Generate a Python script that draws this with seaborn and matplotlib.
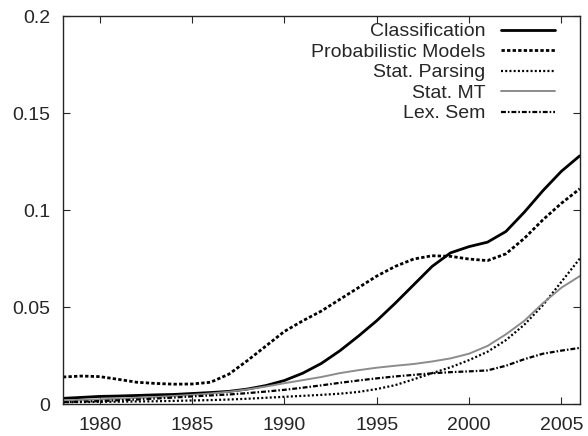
import numpy as np
import pandas as pd
import matplotlib
matplotlib.use("Agg")
import matplotlib.pyplot as plt
import seaborn as sns
from matplotlib.ticker import FuncFormatter

# anos e valores
years = list(range(1978, 2007))
classification = [0.003, 0.0035, 0.004, 0.0042, 0.0045, 0.0048, 0.005, 0.0055, 0.006, 0.0066,
                  0.0078, 0.0096, 0.0122, 0.016, 0.021, 0.0275, 0.035, 0.043, 0.052, 0.0615,
                  0.071, 0.078, 0.0812, 0.0835, 0.089, 0.099, 0.110, 0.120, 0.128]
prob_models = [0.014, 0.0145, 0.0142, 0.0128, 0.0113, 0.0107, 0.0103, 0.0104, 0.0113, 0.0155,
               0.0225, 0.030, 0.0375, 0.043, 0.048, 0.054, 0.060, 0.066, 0.071, 0.0748,
               0.0765, 0.0762, 0.0748, 0.074, 0.0775, 0.0855, 0.095, 0.1035, 0.111]
stat_parsing = [0.001, 0.0011, 0.0012, 0.0013, 0.0014, 0.0015, 0.0017, 0.0019, 0.0021, 0.0024,
                0.0028, 0.0033, 0.0038, 0.0043, 0.0048, 0.0054, 0.0063, 0.0078, 0.0098, 0.0128,
                0.016, 0.019, 0.0227, 0.027, 0.033, 0.041, 0.051, 0.063, 0.075]
stat_mt = [0.002, 0.0022, 0.0025, 0.0028, 0.0032, 0.0037, 0.0042, 0.0048, 0.0055, 0.0064,
           0.0076, 0.0091, 0.0108, 0.0124, 0.014, 0.016, 0.0175, 0.0188, 0.0198, 0.0207,
           0.022, 0.0236, 0.026, 0.030, 0.036, 0.043, 0.052, 0.060, 0.066]
lex_sem = [0.001, 0.0013, 0.0016, 0.002, 0.0024, 0.0029, 0.0034, 0.004, 0.0045, 0.005,
           0.0057, 0.0065, 0.0074, 0.0085, 0.0097, 0.011, 0.0122, 0.0133, 0.0143, 0.0151,
           0.0159, 0.0165, 0.0169, 0.0174, 0.0198, 0.0232, 0.026, 0.0276, 0.029]

labels = ["Classification", "Probabilistic Models", "Stat. Parsing", "Stat. MT", "Lex. Sem"]
series = [classification, prob_models, stat_parsing, stat_mt, lex_sem]

sns.set_style("ticks")
plt.rcParams["font.family"] = ["Liberation Sans", "DejaVu Sans"]

fig = plt.figure(figsize=(5.88, 4.36), dpi=100)
ax = fig.add_axes([0.107, 0.073, 0.879, 0.89])

estilos = [
    dict(color="black", lw=2.0, linestyle="-"),
    dict(color="black", lw=2.0, dashes=(1.2, 0.8)),
    dict(color="black", lw=1.6, dashes=(0.9, 1.0)),
    dict(color="#8c8c8c", lw=1.4, linestyle="-"),
    dict(color="black", lw=1.6, dashes=(2.2, 0.9, 0.7, 0.9)),
]

for lab, vals, st in zip(labels, series, estilos):
    df = pd.DataFrame({"ano": years, "valor": vals})
    sns.lineplot(data=df, x="ano", y="valor", ax=ax, label=lab, **st)

ax.set_xlim(1978, 2006)
ax.set_ylim(0, 0.2)
ax.set_xticks([1980, 1985, 1990, 1995, 2000, 2005])
ax.set_yticks([0, 0.05, 0.1, 0.15, 0.2])
ax.yaxis.set_major_formatter(FuncFormatter(lambda v, p: f"{v:g}"))
ax.set_xlabel("")
ax.set_ylabel("")
ax.tick_params(direction="in", top=True, right=True, labelsize=14, length=5, width=0.8)
ax.tick_params(axis="x", pad=9)
ax.tick_params(axis="y", pad=9)
for s in ax.spines.values():
    s.set_linewidth(1.0)
    s.set_visible(True)

ax.legend(loc="upper right", bbox_to_anchor=(0.975, 1.013), frameon=False,
          markerfirst=False, fontsize=14, handlelength=2.8, handletextpad=0.8,
          labelspacing=0.15, borderaxespad=0.3, borderpad=0.3)

fig.savefig("out.png", dpi=100)
